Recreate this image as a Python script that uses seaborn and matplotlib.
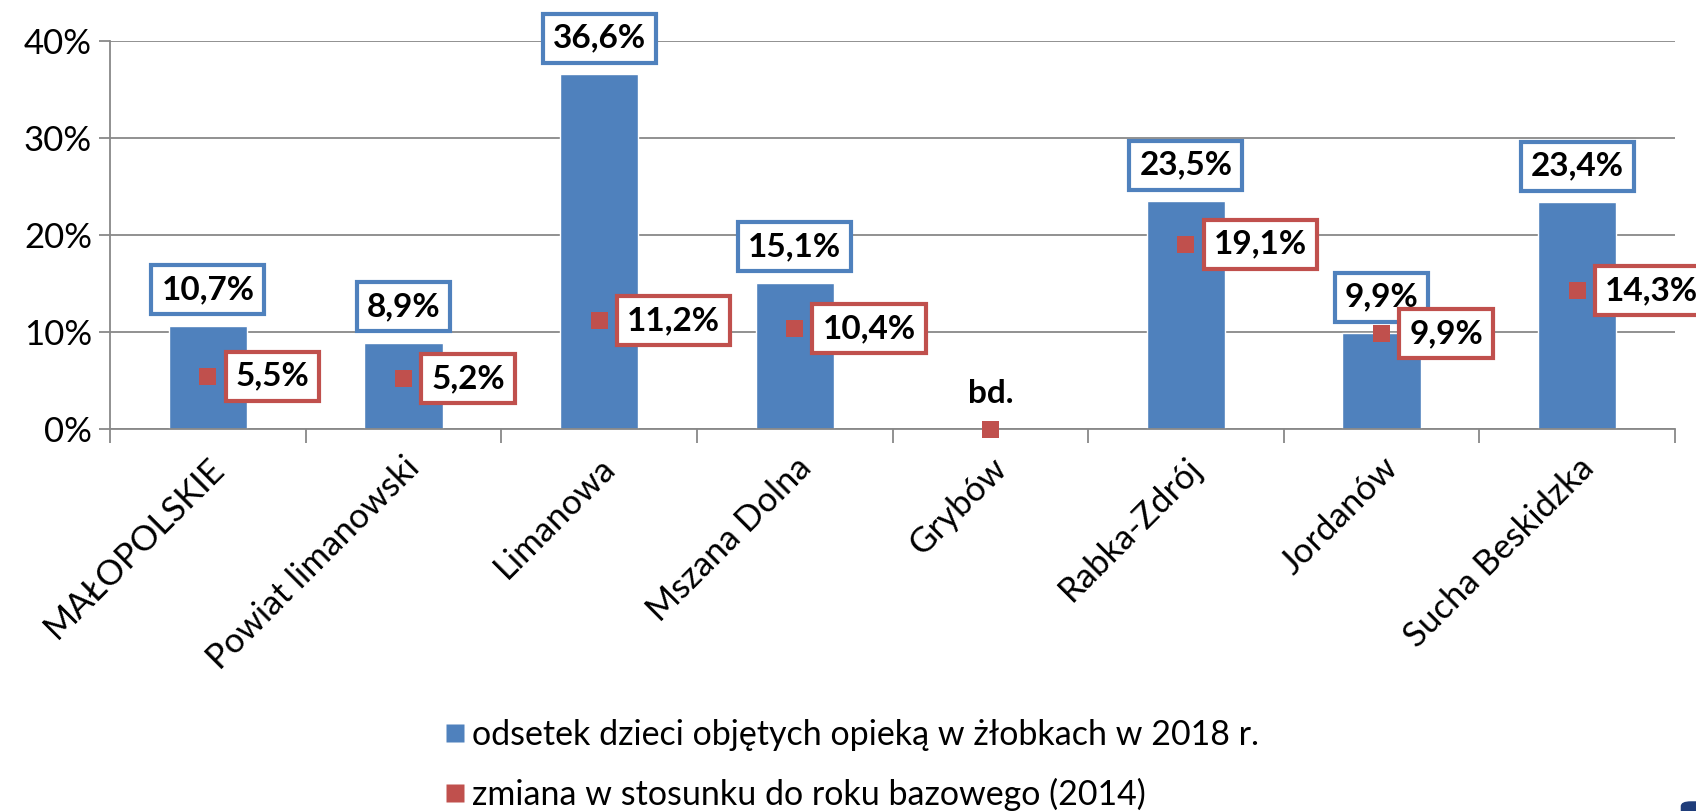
import numpy as np
import matplotlib
matplotlib.use("Agg")
import matplotlib.pyplot as plt
import seaborn as sns
from matplotlib.lines import Line2D
from matplotlib.patches import FancyBboxPatch

# =========================================
# data
# =========================================
gminy = ["MAŁOPOLSKIE", "Powiat limanowski", "Limanowa", "Mszana Dolna",
         "Grybów", "Rabka-Zdrój", "Jordanów", "Sucha Beskidzka"]
odsetek_2018 = [10.7, 8.9, 36.6, 15.1, np.nan, 23.5, 9.9, 23.4]
zmiana_2014 = [5.5, 5.2, 11.2, 10.4, 0.0, 19.1, 9.9, 14.3]
brak_danych = "bd."
legenda = ["odsetek dzieci objętych opieką w żłobkach w 2018 r.",
           "zmiana w stosunku do roku bazowego (2014)"]

BLUE = "#4F81BD"
RED = "#C0504D"
GRID = "#888888"

sns.set_style("white")
plt.rcParams['font.family'] = ['Lato', 'DejaVu Sans']
plt.rcParams['text.color'] = 'black'

def fmt(v):
    return f"{v:.1f}".replace(".", ",") + "%"

# =========================================
# figure
# =========================================
fig = plt.figure(figsize=(16.96, 8.11), dpi=100)
ax = fig.add_axes([0.0649, 0.4705, 0.9227, 0.4788])

pos = np.arange(len(gminy))
sns.barplot(x=pos, y=odsetek_2018, color=BLUE, width=0.4, saturation=1,
            ax=ax, zorder=2)
sns.scatterplot(x=pos, y=zmiana_2014, marker="s", s=150, color=RED,
                edgecolor="none", ax=ax, zorder=3, clip_on=False)

ax.set_xlim(-0.5, len(gminy) - 0.5)
ax.set_ylim(0, 40)
ax.set_yticks(range(0, 41, 10))
ax.set_yticklabels([f"{t}%" for t in range(0, 41, 10)], fontsize=25)
ax.yaxis.grid(True, color=GRID, linewidth=1.3)
ax.set_axisbelow(True)

ax.set_xticks(pos)
ax.set_xticklabels(gminy, rotation=45, ha="right", va="top",
                   rotation_mode="anchor", fontsize=25)
ax.set_xticks(np.arange(-0.5, len(gminy), 1), minor=True)
ax.tick_params(axis="x", which="major", length=0, pad=16, labelcolor="black")
ax.tick_params(axis="x", which="minor", length=10, width=1.3, color=GRID,
               direction="out", bottom=True)
ax.tick_params(axis="y", length=8, width=1.3, color=GRID, direction="out",
               left=True, pad=5, labelcolor="black")
for side in ["top", "right"]:
    ax.spines[side].set_visible(False)
for side in ["left", "bottom"]:
    ax.spines[side].set_color(GRID)
    ax.spines[side].set_linewidth(1.3)
ax.set_xlabel("")
ax.set_ylabel("")

# =========================================
# data labels
# =========================================
for i, (v, z) in enumerate(zip(odsetek_2018, zmiana_2014)):
    if np.isnan(v):
        ax.annotate(brak_danych, (i, z), xytext=(0, 26), textcoords="offset points",
                    ha="center", va="center", fontsize=24, fontweight="bold",
                    annotation_clip=False, zorder=6)
        continue
    ax.annotate(fmt(v), (i, v), xytext=(0, 26), textcoords="offset points",
                ha="center", va="center", fontsize=24, fontweight="bold",
                bbox=dict(boxstyle="square,pad=0.3", fc="white", ec=BLUE, lw=3),
                annotation_clip=False, zorder=4)
    ax.annotate(fmt(z), (i, z), xytext=(20, 0), textcoords="offset points",
                ha="left", va="center", fontsize=24, fontweight="bold",
                bbox=dict(boxstyle="square,pad=0.3", fc="white", ec=RED, lw=3),
                annotation_clip=False, zorder=5)

# =========================================
# legend
# =========================================
handles = [Line2D([], [], marker="s", linestyle="none", markersize=13,
                  markerfacecolor=c, markeredgecolor="none") for c in [BLUE, RED]]
fig.legend(handles, legenda, loc="upper left", bbox_to_anchor=(0.261, 0.113),
           frameon=False, fontsize=24.5, handlelength=0.7, handletextpad=0.15,
           labelspacing=0.78, borderpad=0, borderaxespad=0)

fig.patches.append(FancyBboxPatch((0.991, -0.01), 0.02, 0.022,
                                  boxstyle="round,pad=0,rounding_size=0.006",
                                  transform=fig.transFigure, fc="#1F3D7A",
                                  ec="none"))

fig.savefig("out.png", dpi=100)
